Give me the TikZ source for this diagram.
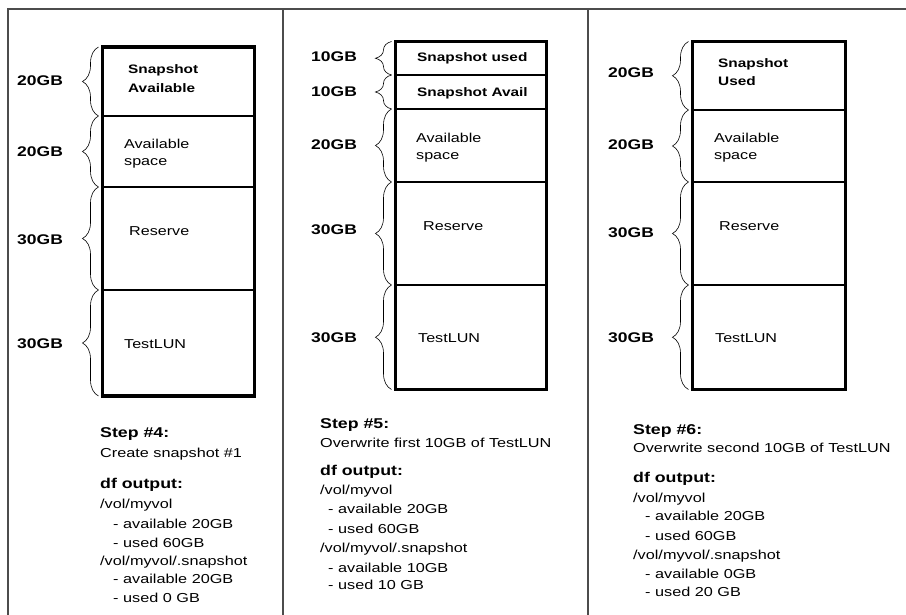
\documentclass[tikz,border=0pt]{standalone}
\usepackage{fontspec}
\setmainfont[FakeStretch=1.25]{Liberation Sans}
\usetikzlibrary{decorations.pathreplacing}

\tikzset{
  gblabel/.style={anchor=base west,inner sep=0pt,font=\bfseries\fontsize{14}{16}\selectfont},
  segtext/.style={anchor=base west,inner sep=0pt,font=\fontsize{12.9}{15}\selectfont},
  segbold/.style={segtext,font=\bfseries\fontsize{12.3}{15}\selectfont},
  head/.style={anchor=base west,inner sep=0pt,font=\bfseries\fontsize{14.2}{16}\selectfont},
  plain/.style={anchor=base west,inner sep=0pt,font=\fontsize{13}{15}\selectfont},
  volbox/.style={line width=3.6pt},
  sepline/.style={line width=2pt},
  curly/.style={decorate,decoration={brace,amplitude=16pt,aspect=0.5},line width=0.6pt},
  frame/.style={line width=1.3pt,color=black!70}
}

\begin{document}
\begin{tikzpicture}[x=1pt,y=1pt,yscale=-1]
\useasboundingbox (0,0) rectangle (906,615);

%Frame lines
\draw[frame] (8,615) -- (8,9) -- (906,9);
\draw[frame] (283,9) -- (283,615);
\draw[frame] (588,9) -- (588,615);

%Shape: Volume panel 1
\draw[sepline] (102.5,116) -- (254.5,116);
\draw[sepline] (102.5,187) -- (254.5,187);
\draw[sepline] (102.5,290) -- (254.5,290);
\draw[volbox] (102.5,47) rectangle (254.5,396);
\coordinate (b1-0) at (98.5,47);
\coordinate (b1-1) at (98.5,116);
\coordinate (b1-2) at (98.5,187);
\coordinate (b1-3) at (98.5,290);
\coordinate (b1-4) at (98.5,396);
\draw[curly] (b1-1) -- (b1-0);
\draw[curly] (b1-2) -- (b1-1);
\draw[curly] (b1-3) -- (b1-2);
\draw[curly] (b1-4) -- (b1-3);

% Text Node
\node[gblabel] (g1a) at (17,86) {20GB};
\node[gblabel] (g1b) at (17,157) {20GB};
\node[gblabel] (g1c) at (17,244) {30GB};
\node[gblabel] (g1d) at (17,348) {30GB};
\node[segbold] (s1a) at (128,74) {Snapshot};
\node[segbold] (s1b) at (128,93) {Available};
\node[segtext] (s1c) at (124,149) {Available};
\node[segtext] (s1d) at (124,166) {space};
\node[segtext] (s1e) at (129,236) {Reserve};
\node[segtext] (s1f) at (124,348) {TestLUN};
\node[head] (t1a) at (100,437) {Step \#4:};
\node[plain] (t1b) at (100,457) {Create snapshot \#1};
\node[head] (t1c) at (100,488) {df output:};
\node[plain] (t1d) at (100,508) {/vol/myvol};
\node[plain] (t1e) at (113,528) {- available 20GB};
\node[plain] (t1f) at (113,547) {- used 60GB};
\node[plain] (t1g) at (100,565) {/vol/myvol/.snapshot};
\node[plain] (t1h) at (113,583) {- available 20GB};
\node[plain] (t1i) at (113,602) {- used 0 GB};

%Shape: Volume panel 2
\draw[sepline] (395.5,75) -- (546.5,75);
\draw[sepline] (395.5,109) -- (546.5,109);
\draw[sepline] (395.5,182) -- (546.5,182);
\draw[sepline] (395.5,285) -- (546.5,285);
\draw[volbox] (395.5,41.5) rectangle (546.5,389.5);
\coordinate (b2-0) at (391.5,41.5);
\coordinate (b2-1) at (391.5,75);
\coordinate (b2-2) at (391.5,109);
\coordinate (b2-3) at (391.5,182);
\coordinate (b2-4) at (391.5,285);
\coordinate (b2-5) at (391.5,389.5);
\draw[curly] (b2-1) -- (b2-0);
\draw[curly] (b2-2) -- (b2-1);
\draw[curly] (b2-3) -- (b2-2);
\draw[curly] (b2-4) -- (b2-3);
\draw[curly] (b2-5) -- (b2-4);

% Text Node
\node[gblabel] (g2a) at (311,62) {10GB};
\node[gblabel] (g2b) at (311,97) {10GB};
\node[gblabel] (g2c) at (311,150) {20GB};
\node[gblabel] (g2d) at (311,235) {30GB};
\node[gblabel] (g2e) at (311,342) {30GB};
\node[segbold] (s2a) at (417,62) {Snapshot used};
\node[segbold] (s2b) at (417,97) {Snapshot Avail};
\node[segtext] (s2c) at (416,143) {Available};
\node[segtext] (s2d) at (416,160) {space};
\node[segtext] (s2e) at (423,230) {Reserve};
\node[segtext] (s2f) at (418,342) {TestLUN};
\node[head] (t2a) at (320,428) {Step \#5:};
\node[plain] (t2b) at (320,447) {Overwrite first 10GB of TestLUN};
\node[head] (t2c) at (320,475) {df output:};
\node[plain] (t2d) at (320,494) {/vol/myvol};
\node[plain] (t2e) at (328,513) {- available 20GB};
\node[plain] (t2f) at (328,533) {- used 60GB};
\node[plain] (t2g) at (320,552) {/vol/myvol/.snapshot};
\node[plain] (t2h) at (328,572) {- available 10GB};
\node[plain] (t2i) at (328,589) {- used 10 GB};

%Shape: Volume panel 3
\draw[sepline] (692.5,110) -- (845.5,110);
\draw[sepline] (692.5,182) -- (845.5,182);
\draw[sepline] (692.5,285) -- (845.5,285);
\draw[volbox] (692.5,41.5) rectangle (845.5,389.5);
\coordinate (b3-0) at (688.5,41.5);
\coordinate (b3-1) at (688.5,110);
\coordinate (b3-2) at (688.5,182);
\coordinate (b3-3) at (688.5,285);
\coordinate (b3-4) at (688.5,389.5);
\draw[curly] (b3-1) -- (b3-0);
\draw[curly] (b3-2) -- (b3-1);
\draw[curly] (b3-3) -- (b3-2);
\draw[curly] (b3-4) -- (b3-3);

% Text Node
\node[gblabel] (g3a) at (608,78) {20GB};
\node[gblabel] (g3b) at (608,150) {20GB};
\node[gblabel] (g3c) at (608,238) {30GB};
\node[gblabel] (g3d) at (608,342) {30GB};
\node[segbold] (s3a) at (718,68) {Snapshot};
\node[segbold] (s3b) at (718,86) {Used};
\node[segtext] (s3c) at (714,143) {Available};
\node[segtext] (s3d) at (714,160) {space};
\node[segtext] (s3e) at (719,230) {Reserve};
\node[segtext] (s3f) at (715,342) {TestLUN};
\node[head] (t3a) at (633,434) {Step \#6:};
\node[plain] (t3b) at (633,452) {Overwrite second 10GB of TestLUN};
\node[head] (t3c) at (633,482) {df output:};
\node[plain] (t3d) at (633,502) {/vol/myvol};
\node[plain] (t3e) at (645,520) {- available 20GB};
\node[plain] (t3f) at (645,540) {- used 60GB};
\node[plain] (t3g) at (633,559) {/vol/myvol/.snapshot};
\node[plain] (t3h) at (645,578) {- available 0GB};
\node[plain] (t3i) at (645,596) {- used 20 GB};

\end{tikzpicture}
\end{document}
